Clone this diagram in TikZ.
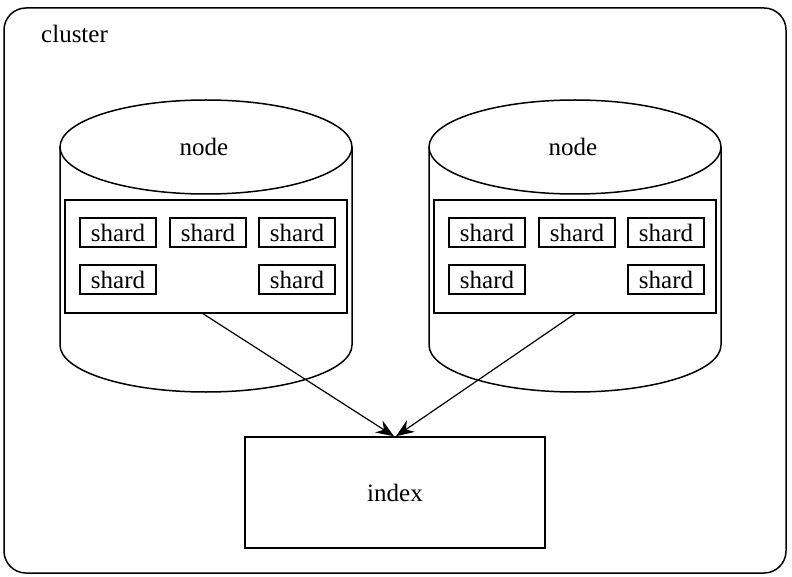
\documentclass[tikz,border=0pt]{standalone}
\usepackage{fontspec}
\setmainfont{Liberation Serif}
\usetikzlibrary{arrows.meta}
\begin{document}
\begin{tikzpicture}[x=1pt,y=-1pt,
  label font/.style={font=\fontsize{25}{29}\selectfont},
  shardbox/.style={draw, line width=1.4pt, minimum width=76pt, minimum height=29pt, inner sep=0pt, label font},
  storebox/.style={draw, line width=1.4pt, minimum width=282pt, minimum height=113pt, inner sep=0pt},
  link/.style={line width=1.2pt, -{Stealth[length=18pt,width=14pt,inset=6pt]}},
  cyl/.style={line width=1.5pt}
]
\useasboundingbox (0,0) rectangle (792,577);

% cluster frame
\draw[line width=1.5pt, rounded corners=22pt] (4,8) rectangle (786,573);
\node[label font, anchor=base west, inner sep=0pt] (clusterlabel) at (41,43) {cluster};

% two node cylinders
\foreach \cx/\nm in {206/left, 575/right} {
  \draw[cyl] (\cx,147) ellipse [x radius=146, y radius=47];
  \draw[cyl] (\cx-146,147) -- (\cx-146,345)
    arc[start angle=180, end angle=0, x radius=146, y radius=47]
    -- (\cx+146,147);
  \node[label font] (title\nm) at (\cx-2,147) {node};
}

% shard containers
\node[storebox] (storeleft) at (206,256.5) {};
\node[storebox] (storeright) at (575,256.5) {};

% shards on the left node
\node[shardbox] (sl1) at (118,232.5) {shard};
\node[shardbox] (sl2) at (208,232.5) {shard};
\node[shardbox] (sl3) at (297,232.5) {shard};
\node[shardbox] (sl4) at (118,279.5) {shard};
\node[shardbox] (sl5) at (297,279.5) {shard};

% shards on the right node
\node[shardbox] (sr1) at (487,232.5) {shard};
\node[shardbox] (sr2) at (577,232.5) {shard};
\node[shardbox] (sr3) at (666,232.5) {shard};
\node[shardbox] (sr4) at (487,279.5) {shard};
\node[shardbox] (sr5) at (666,279.5) {shard};

% index
\node[draw, line width=1.5pt, minimum width=300pt, minimum height=111pt, inner sep=0pt, label font] (index) at (395,492.5) {index};

% connectors
\draw[link] ([xshift=-3pt]storeleft.south) -- ([xshift=-1pt]index.north);
\draw[link] (storeright.south) -- ([xshift=1pt]index.north);
\end{tikzpicture}
\end{document}
